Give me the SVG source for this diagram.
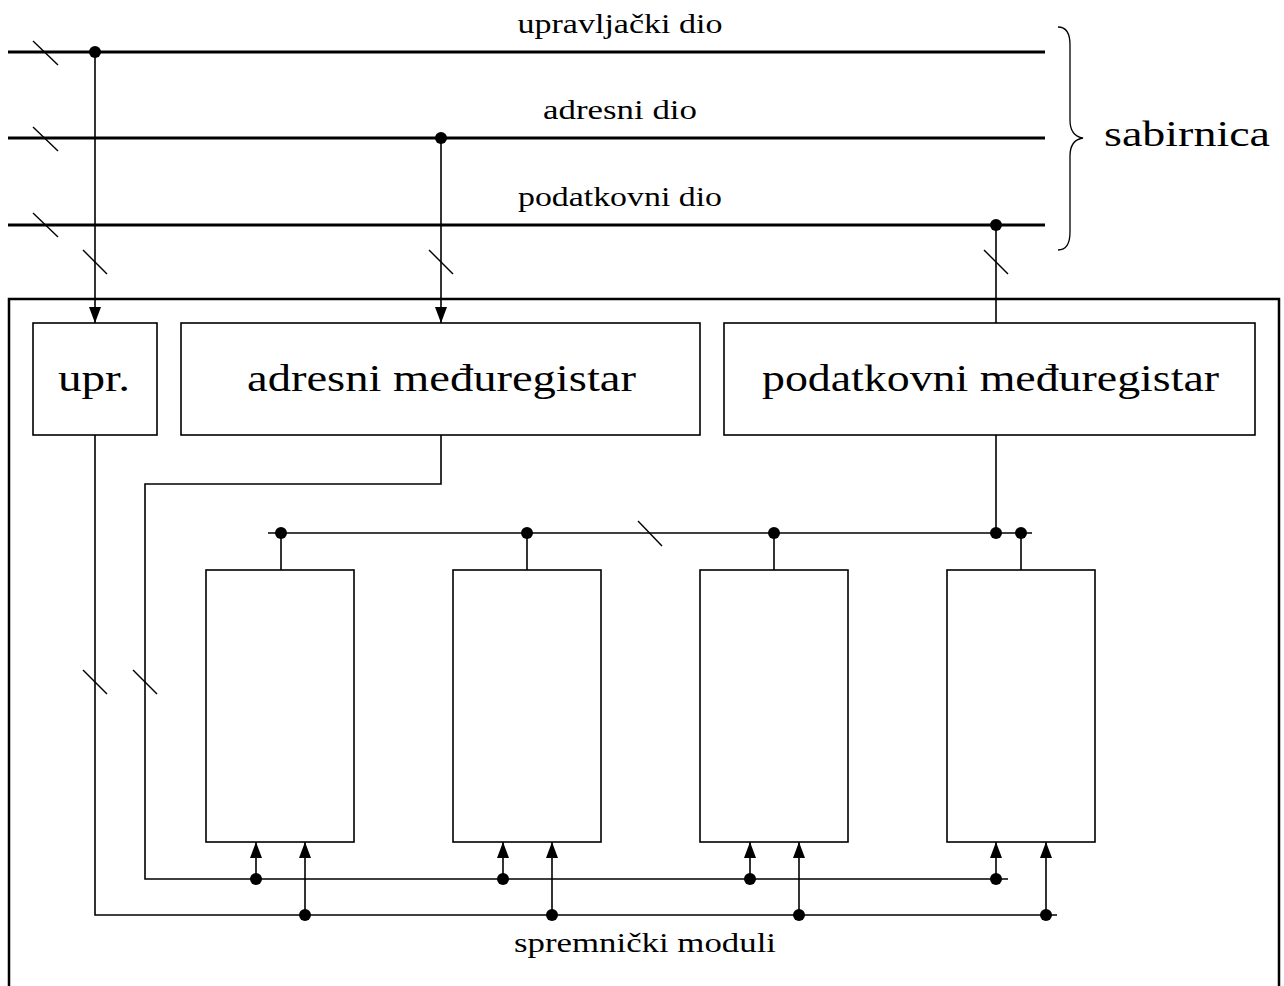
<svg xmlns="http://www.w3.org/2000/svg" width="1284" height="986" viewBox="0 0 1284 986">
<style>
text{font-family:"Liberation Serif","DejaVu Serif",serif;fill:#000}
.lbl{font-size:28px;text-anchor:middle}
.big{font-size:37px;text-anchor:middle}
.bus{stroke:#000;stroke-width:3;fill:none}
.w{stroke:#000;stroke-width:1.6;fill:none}
.box{stroke:#000;stroke-width:1.6;fill:#fff}
.sl{stroke:#000;stroke-width:1.4}
.dot{fill:#000}
</style>
<defs>
<marker id="ar" markerWidth="16" markerHeight="12" refX="16" refY="6" orient="auto" markerUnits="userSpaceOnUse" viewBox="0 0 16 12">
<path d="M0,0 L16,6 L0,12 Z" fill="#000"/>
</marker>
</defs>
<rect width="1284" height="986" fill="#fff"/>
<g id="outer"><path d="M9,990 V299 H1279 V990" stroke="#000" stroke-width="2.5" fill="none"/></g>
<g id="bus">
<line class="bus" x1="8" y1="52" x2="1045" y2="52"/>
<line class="bus" x1="8" y1="138" x2="1045" y2="138"/>
<line class="bus" x1="8" y1="225" x2="1045" y2="225"/>
<text class="lbl" x="620" y="33" textLength="205" lengthAdjust="spacingAndGlyphs">upravljački dio</text>
<text class="lbl" x="620" y="119" textLength="154" lengthAdjust="spacingAndGlyphs">adresni dio</text>
<text class="lbl" x="620" y="206" textLength="204" lengthAdjust="spacingAndGlyphs">podatkovni dio</text>
<path d="M1058,27 Q1070,27 1070,45 V120 Q1070,136 1083,138 Q1070,140 1070,156 V232 Q1070,250 1058,250" stroke="#000" stroke-width="1.3" fill="none"/>
<text x="1187" y="146" style="font-size:36px;text-anchor:middle" textLength="166" lengthAdjust="spacingAndGlyphs">sabirnica</text>
</g>
<g id="upr"><rect class="box" x="33" y="323" width="124" height="112"/><text class="big" x="94" y="391" textLength="72" lengthAdjust="spacingAndGlyphs">upr.</text></g>
<g id="adr"><rect class="box" x="181" y="323" width="519" height="112"/><text class="big" x="441.5" y="391" textLength="389" lengthAdjust="spacingAndGlyphs">adresni međuregistar</text></g>
<g id="pod"><rect class="box" x="724" y="323" width="531" height="112"/><text class="big" x="990.5" y="391" textLength="457" lengthAdjust="spacingAndGlyphs">podatkovni međuregistar</text></g>
<g id="m1"><rect class="box" x="206" y="570" width="148" height="272"/></g>
<g id="m2"><rect class="box" x="453" y="570" width="148" height="272"/></g>
<g id="m3"><rect class="box" x="700" y="570" width="148" height="272"/></g>
<g id="m4"><rect class="box" x="947" y="570" width="148" height="272"/></g>
<g id="connectors">
<line class="w" x1="95" y1="52" x2="95" y2="323" marker-end="url(#ar)"/>
<line class="w" x1="441" y1="138" x2="441" y2="323" marker-end="url(#ar)"/>
<line class="w" x1="996" y1="225" x2="996" y2="323"/>
<polyline class="w" points="95,435 95,915 1057,915"/>
<polyline class="w" points="441,435 441,484 145,484 145,879 1008,879"/>
<line class="w" x1="996" y1="435" x2="996" y2="533"/>
<line class="w" x1="268" y1="533" x2="1032" y2="533"/>
<line class="w" x1="281" y1="533" x2="281" y2="570"/>
<line class="w" x1="527" y1="533" x2="527" y2="570"/>
<line class="w" x1="774" y1="533" x2="774" y2="570"/>
<line class="w" x1="1021" y1="533" x2="1021" y2="570"/>
<line class="w" x1="256" y1="879" x2="256" y2="842" marker-end="url(#ar)"/>
<line class="w" x1="305" y1="915" x2="305" y2="842" marker-end="url(#ar)"/>
<line class="w" x1="503" y1="879" x2="503" y2="842" marker-end="url(#ar)"/>
<line class="w" x1="552" y1="915" x2="552" y2="842" marker-end="url(#ar)"/>
<line class="w" x1="750" y1="879" x2="750" y2="842" marker-end="url(#ar)"/>
<line class="w" x1="799" y1="915" x2="799" y2="842" marker-end="url(#ar)"/>
<line class="w" x1="996" y1="879" x2="996" y2="842" marker-end="url(#ar)"/>
<line class="w" x1="1046" y1="915" x2="1046" y2="842" marker-end="url(#ar)"/>
<g class="sl">
<line x1="33" y1="41" x2="58" y2="65"/>
<line x1="33" y1="127" x2="58" y2="151"/>
<line x1="33" y1="213" x2="58" y2="237"/>
<line x1="83" y1="250" x2="107" y2="274"/>
<line x1="429" y1="250" x2="453" y2="274"/>
<line x1="984" y1="250" x2="1008" y2="274"/>
<line x1="83" y1="670" x2="107" y2="694"/>
<line x1="133" y1="670" x2="157" y2="694"/>
<line x1="638" y1="521" x2="662" y2="546"/>
</g>
<g class="dot">
<circle cx="95" cy="52" r="6"/>
<circle cx="441" cy="138" r="6"/>
<circle cx="996" cy="225" r="6"/>
<circle cx="281" cy="533" r="6"/>
<circle cx="527" cy="533" r="6"/>
<circle cx="774" cy="533" r="6"/>
<circle cx="996" cy="533" r="6"/>
<circle cx="1021" cy="533" r="6"/>
<circle cx="256" cy="879" r="6"/>
<circle cx="503" cy="879" r="6"/>
<circle cx="750" cy="879" r="6"/>
<circle cx="996" cy="879" r="6"/>
<circle cx="305" cy="915" r="6"/>
<circle cx="552" cy="915" r="6"/>
<circle cx="799" cy="915" r="6"/>
<circle cx="1046" cy="915" r="6"/>
</g>
</g>
<text class="lbl" x="645" y="952" textLength="262" lengthAdjust="spacingAndGlyphs">spremnički moduli</text>
</svg>
